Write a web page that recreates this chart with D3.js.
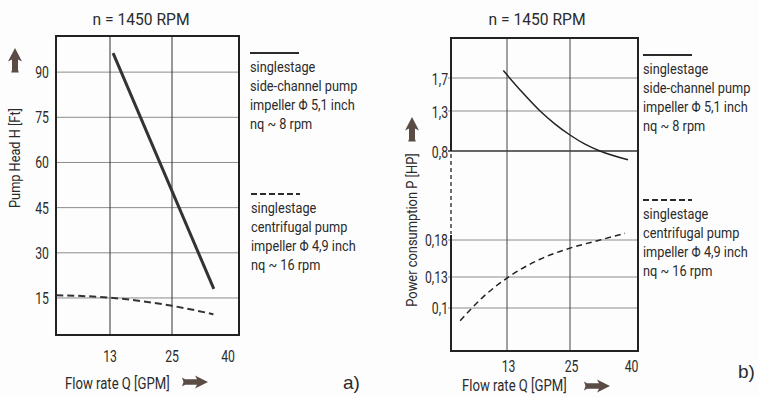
<!DOCTYPE html>
<html>
<head>
<meta charset="utf-8">
<script src="https://cdn.jsdelivr.net/npm/d3@7/dist/d3.min.js"></script>
<style>
  html, body { margin: 0; padding: 0; background: #fdfdfd; }
  svg { display: block; }
</style>
</head>
<body>
<svg id="chart" width="759" height="397"></svg>
<script>
// ---------------- DATA ----------------
const titleText = "n = 1450 RPM";
const flowTicks = [13, 25, 40];
const headTicks = [15, 30, 45, 60, 75, 90];
const powerTicksHigh = [0.8, 1.3, 1.7];
const powerTicksLow = [0.1, 0.13, 0.18];

// a) Pump head H [Ft] vs flow Q [GPM]
const headSideQ = [13.6, 36.2];
const headSideH = [96.3, 18.0];
const headCentQ = [2.6, 13, 25, 36.1];
const headCentH = [15.9, 15.1, 12.4, 9.6];

// b) Power consumption P [HP] vs flow Q [GPM]
const powerSideQ = [12.3, 16, 19.3, 22.1, 25, 28.75, 32.5, 39.5];
const powerSideP = [1.79, 1.52, 1.30, 1.14, 1.00, 0.885, 0.80, 0.69];
const powerCentQ = [4.05, 8.5, 13, 19.3, 25, 32.5, 38.75];
const powerCentP = [0.0877, 0.111, 0.129, 0.154, 0.169, 0.180, 0.189];

const legendSide = ["singlestage", "side-channel pump", "impeller \u03A6 5,1 inch", "nq ~ 8 rpm"];
const legendCent = ["singlestage", "centrifugal pump", "impeller \u03A6 4,9 inch", "nq ~ 16 rpm"];

// ---------------- STYLE ----------------
const FONT = "Roboto, 'DejaVu Sans', sans-serif";
const INK = "#2b2b2b";
const ARROW = "#5a4b45";
const fmtComma = d => String(d).replace(".", ",");

const svg = d3.select("#chart");

function txt(g, x, y, s, o = {}) {
  const size = o.size || 14, sx = o.sx || 0.9, rot = o.rotate || 0;
  return g.append("text")
    .attr("transform", `translate(${x},${y}) rotate(${rot}) scale(${sx},1)`)
    .attr("text-anchor", o.anchor || "start")
    .attr("font-family", o.family || FONT)
    .attr("font-size", size)
    .attr("fill", INK)
    .text(s);
}

function upArrow(g, x, y) {
  g.append("path")
    .attr("transform", `translate(${x},${y})`)
    .attr("d", "M0,0 L7,13.5 L3,11.5 L3,22 L3.8,24.5 L-3.8,24.5 L-3,22 L-3,11.5 L-7,13.5 Z")
    .attr("fill", ARROW);
}
function rightArrow(g, x, y) {
  g.append("path")
    .attr("transform", `translate(${x},${y})`)
    .attr("d", "M0,0 L-13,-6.5 L-11,-2.7 L-23,-2.7 L-26,-4.5 L-24.5,0 L-26,4.5 L-23,2.7 L-11,2.7 L-13,6.5 Z")
    .attr("fill", ARROW);
}

function legend(g, x, ySample, lines, dashed, lineW) {
  g.append("line")
    .attr("x1", x).attr("x2", x + 49).attr("y1", ySample).attr("y2", ySample)
    .attr("stroke", INK).attr("stroke-width", lineW)
    .attr("stroke-dasharray", dashed ? "6,3" : null);
  lines.forEach((s, i) => txt(g, x, ySample + 19 + i * 19, s, { size: 15, sx: 0.85 }));
}

// ================= CHART a) =================
(function () {
  const g = svg.append("g");
  const F = { x0: 56, x1: 239, y0: 36, y1: 335 };
  const x = d3.scaleLinear().domain([2.55, 13, 25, 40, 42.9]).range([F.x0, 110, 172, 228, F.x1]);
  const y = d3.scaleLinear().domain([2.7, 102]).range([F.y1, F.y0]);

  // horizontal grid
  g.append("g").selectAll("line").data(headTicks).join("line")
    .attr("x1", F.x0).attr("x2", F.x1)
    .attr("y1", d => y(d)).attr("y2", d => y(d))
    .attr("stroke", "#8c8c8c").attr("stroke-width", 1);
  // vertical grid
  g.append("g").selectAll("line").data(flowTicks.filter(d => d < 40)).join("line")
    .attr("x1", d => x(d)).attr("x2", d => x(d))
    .attr("y1", F.y0).attr("y2", F.y1)
    .attr("stroke", "#333").attr("stroke-width", 1);
  // frame
  g.append("rect").attr("x", F.x0).attr("y", F.y0)
    .attr("width", F.x1 - F.x0).attr("height", F.y1 - F.y0)
    .attr("fill", "none").attr("stroke", "#222").attr("stroke-width", 2);

  // y tick labels
  headTicks.forEach(d => txt(g, F.x0 - 7, y(d) + 6, String(d), { size: 17, sx: 0.72, anchor: "end" }));
  // x tick labels
  flowTicks.forEach(d => txt(g, x(d), 362, String(d), { size: 17, sx: 0.72, anchor: "middle" }));

  // lines
  const lineGen = d3.line().x(d => x(d[0])).y(d => y(d[1])).curve(d3.curveMonotoneX);
  g.append("path").datum(headSideQ.map((q, i) => [q, headSideH[i]]))
    .attr("d", lineGen).attr("fill", "none").attr("stroke", "#333").attr("stroke-width", 3);
  g.append("path").datum(headCentQ.map((q, i) => [q, headCentH[i]]))
    .attr("d", lineGen).attr("fill", "none").attr("stroke", "#333").attr("stroke-width", 2)
    .attr("stroke-dasharray", "7,4");

  // title, axis labels
  txt(g, 141, 25, titleText, { size: 17, sx: 0.92, anchor: "middle" });
  txt(g, 20, 158, "Pump Head H [Ft]", { size: 15, sx: 0.85, anchor: "middle", rotate: -90 });
  upArrow(g, 15, 48);
  txt(g, 65, 389, "Flow rate Q [GPM]", { size: 16, sx: 0.82 });
  rightArrow(g, 208, 382);
  txt(g, 343, 389, "a)", { size: 19, sx: 1, family: "'Liberation Sans', Arial, sans-serif" });

  // legends
  legend(g, 250, 53, legendSide, false, 2);
  legend(g, 251, 194, legendCent, true, 2);
})();

// ================= CHART b) =================
(function () {
  const g = svg.append("g");
  const F = { x0: 451, x1: 638, y0: 38, y1: 351 };
  const x = d3.scaleLinear().domain([2.3, 13, 25, 40, 42]).range([F.x0, 507, 570, 630, F.x1]);
  const yHigh = d3.scaleLinear().domain(powerTicksHigh).range([151, 111, 78]);
  const yLow = d3.scaleLinear().domain(powerTicksLow).range([308, 277, 240]);
  const y = v => (v >= 0.5 ? yHigh(v) : yLow(v));

  // horizontal grid
  g.append("g").selectAll("line").data(powerTicksHigh.concat(powerTicksLow)).join("line")
    .attr("x1", F.x0 - 3).attr("x2", F.x1)
    .attr("y1", d => y(d)).attr("y2", d => y(d))
    .attr("stroke", d => (d === 0.8 ? "#333" : "#8c8c8c"))
    .attr("stroke-width", d => (d === 0.8 ? 1.6 : 1));
  // vertical grid
  g.append("g").selectAll("line").data(flowTicks.filter(d => d < 40)).join("line")
    .attr("x1", d => x(d)).attr("x2", d => x(d))
    .attr("y1", F.y0).attr("y2", F.y1)
    .attr("stroke", "#444").attr("stroke-width", 1);

  // frame with broken left axis
  const fr = g.append("g").attr("stroke", "#222").attr("stroke-width", 2).attr("fill", "none");
  fr.append("path").attr("d", `M${F.x0},${yHigh(0.8)} L${F.x0},${F.y0} L${F.x1},${F.y0} L${F.x1},${F.y1} L${F.x0},${F.y1} L${F.x0},${yLow(0.18) - 5}`);
  fr.append("line").attr("x1", F.x0).attr("x2", F.x0)
    .attr("y1", yHigh(0.8) + 3).attr("y2", yLow(0.18) - 6)
    .attr("stroke-width", 1.3).attr("stroke-dasharray", "4,3");

  // y tick labels
  powerTicksHigh.forEach(d => txt(g, F.x0 - 3, yHigh(d) + 6.5, fmtComma(d), { size: 17, sx: 0.72, anchor: "end" }));
  powerTicksLow.forEach(d => txt(g, F.x0 - 3, yLow(d) + 6, fmtComma(d), { size: 17, sx: 0.72, anchor: "end" }));
  // x tick labels
  flowTicks.forEach(d => txt(g, x(d) + 1.5, 372, String(d), { size: 17, sx: 0.72, anchor: "middle" }));

  // lines
  const lineGen = d3.line().x(d => x(d[0])).y(d => y(d[1])).curve(d3.curveMonotoneX);
  g.append("path").datum(powerSideQ.map((q, i) => [q, powerSideP[i]]))
    .attr("d", lineGen).attr("fill", "none").attr("stroke", "#222").attr("stroke-width", 1.5);
  g.append("path").datum(powerCentQ.map((q, i) => [q, powerCentP[i]]))
    .attr("d", lineGen).attr("fill", "none").attr("stroke", "#222").attr("stroke-width", 1.5)
    .attr("stroke-dasharray", "6,4");

  // title, axis labels
  txt(g, 537, 25, titleText, { size: 17, sx: 0.92, anchor: "middle" });
  txt(g, 417, 230, "Power consumption P [HP]", { size: 15, sx: 0.86, anchor: "middle", rotate: -90 });
  upArrow(g, 412, 117);
  txt(g, 462, 391, "Flow rate Q [GPM]", { size: 16, sx: 0.82 });
  rightArrow(g, 610, 386);
  txt(g, 738, 378, "b)", { size: 19, sx: 1, family: "'Liberation Sans', Arial, sans-serif" });

  // legends
  legend(g, 643, 55, legendSide, false, 2);
  legend(g, 643, 200, legendCent, true, 2);
})();
</script>
</body>
</html>
